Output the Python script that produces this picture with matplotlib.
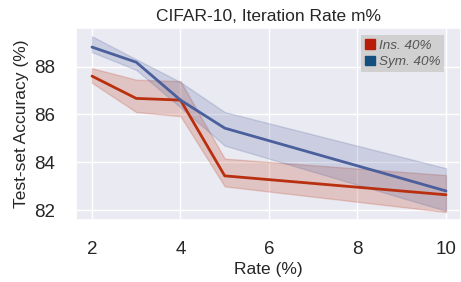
import matplotlib
matplotlib.use("Agg")
import matplotlib.pyplot as plt
import seaborn as sns
from matplotlib.patches import Patch

rates = [2, 3, 4, 5, 10]
ins_mean = [87.6, 86.67, 86.6, 83.44, 82.65]
ins_low = [87.32, 86.1, 85.93, 83.0, 81.93]
ins_high = [87.93, 87.45, 87.39, 84.16, 83.47]
sym_mean = [88.81, 88.18, 86.6, 85.43, 82.81]
sym_low = [88.6, 87.86, 86.3, 84.7, 81.98]
sym_high = [89.26, 88.3, 87.35, 86.1, 83.76]
labels = ["Ins. 40%", "Sym. 40%"]

sns.set_theme(style="darkgrid")
plt.rcParams['font.family'] = ['Liberation Sans', 'DejaVu Sans']

fig = plt.figure(figsize=(4.61, 2.82), dpi=100)
ax = fig.add_axes([0.165, 0.22, 0.835, 0.681])

red = "#b8300f"
blue = "#4a5f9c"
ax.fill_between(rates, ins_low, ins_high, color=red, alpha=0.2, lw=1)
ax.fill_between(rates, sym_low, sym_high, color=blue, alpha=0.2, lw=1)
ax.plot(rates, ins_mean, color=red, lw=2)
ax.plot(rates, sym_mean, color=blue, lw=2)

ax.set_xlim(1.64, 10.34)
ax.set_ylim(81.6, 89.61)
ax.set_xticks([2, 4, 6, 8, 10])
ax.set_yticks([82, 84, 86, 88])
ax.tick_params(axis='both', labelsize=13.5)
ax.tick_params(axis='x', pad=9)
ax.tick_params(axis='y', pad=9)
ax.set_xlabel("Rate (%)", fontsize=12.5, labelpad=3)
ax.set_ylabel("Test-set Accuracy (%)", fontsize=12.5, labelpad=4)
ax.set_title("CIFAR-10, Iteration Rate m%", fontsize=12.5, pad=5)

handles = [Patch(color="#b81d0a"), Patch(color="#14507d")]
leg = ax.legend(handles, labels, loc="upper right", bbox_to_anchor=(0.956, 0.964),
                prop={'style': 'italic', 'size': 9.7}, frameon=True,
                handlelength=0.75, handleheight=0.75, handletextpad=0.25,
                borderpad=0.3, labelspacing=0.3, borderaxespad=0, fancybox=False)
leg.get_frame().set_facecolor("#d0d0d0")
leg.get_frame().set_edgecolor("none")
leg.get_frame().set_alpha(1)
for t in leg.get_texts():
    t.set_color("#555555")

fig.savefig("out.png", dpi=100)
